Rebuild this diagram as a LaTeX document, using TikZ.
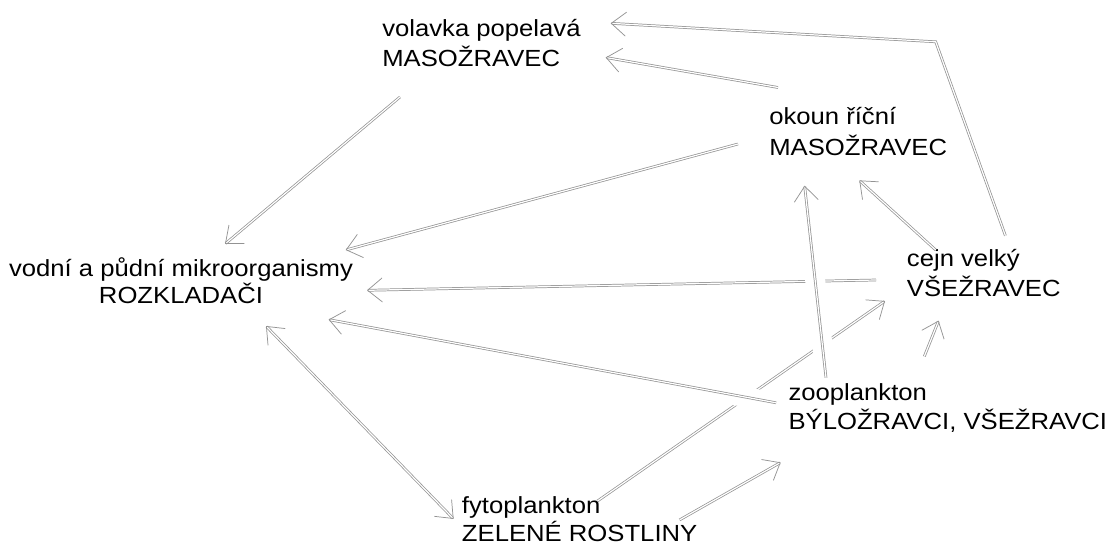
\documentclass[tikz,border=0pt]{standalone}
\usepackage{fontspec}
\setmainfont[FakeStretch=1.1]{Liberation Sans}
\usetikzlibrary{arrows.meta}
\newcommand\mytwoleft[3]{\vtop{\baselineskip=#1\hbox{#2}\hbox{#3}}}
\newcommand\mytwocenter[3]{\vtop{\baselineskip=#1\halign{\hfil##\hfil\cr #2\cr #3\cr}}}
\tikzset{
  label/.style={inner sep=0pt, font=\fontsize{17.5pt}{21pt}\selectfont},
  tip/.tip={Straight Barb[length=11pt,width=18pt]},
  conn/.style={draw=gray!85, line width=0.55pt, double=white, double distance=0.9pt, -tip},
  biconn/.style={conn, tip-tip},
  halo/.style={draw=white, line width=15pt, shorten <=12pt, shorten >=12pt},
}
\begin{document}
\begin{tikzpicture}[x=0.75pt,y=-0.75pt]
\useasboundingbox[fill=white] (0,0) rectangle (1119,552);

% nodes
\node[label, anchor=base west] (volavka) at (382,36.7) {\mytwoleft{22.5pt}{volavka popelavá}{MASOŽRAVEC}};
\node[label, anchor=base] (vodni) at (181,276.7) {\mytwocenter{20pt}{vodní a půdní mikroorganismy}{ROZKLADAČI}};
\node[label, anchor=base west] (okoun) at (769,125) {\mytwoleft{23pt}{okoun říční}{MASOŽRAVEC}};
\node[label, anchor=base west] (cejn) at (906.7,266.7) {\mytwoleft{22.5pt}{cejn velký}{VŠEŽRAVEC}};
\node[label, anchor=base west] (zoo) at (788.3,400) {\mytwoleft{22pt}{zooplankton}{BÝLOŽRAVCI, VŠEŽRAVCI}};
\node[label, anchor=base west] (fyto) at (461.7,513.3) {\mytwoleft{21.3pt}{fytoplankton}{ZELENÉ ROSTLINY}};

% connector end points
\coordinate (volavka-in1) at (610.7,23.3);
\coordinate (volavka-in2) at (605.7,57.5);
\coordinate (volavka-out) at (400,97);
\coordinate (vodni-in1) at (225,244);
\coordinate (vodni-in2) at (345.7,250);
\coordinate (vodni-in3) at (367,290.3);
\coordinate (vodni-in4) at (328.6,319.6);
\coordinate (vodni-io) at (266,326);
\coordinate (okoun-out1) at (778,87.5);
\coordinate (okoun-out2) at (738,144);
\coordinate (okoun-in1) at (804.6,185.7);
\coordinate (okoun-in2) at (859.3,180.4);
\coordinate (cejn-out1) at (1005.4,235.7);
\coordinate (cejn-bend) at (935.7,41.8);
\coordinate (cejn-out2) at (935.7,250);
\coordinate (cejn-out3) at (876,280);
\coordinate (cejn-in1) at (885,301);
\coordinate (cejn-in2) at (938.6,320.6);
\coordinate (zoo-out1) at (924.3,356.4);
\coordinate (zoo-out2) at (826,377.8);
\coordinate (zoo-out3) at (776.1,402.8);
\coordinate (zoo-in) at (780.7,462.4);
\coordinate (fyto-io) at (453.6,518.9);
\coordinate (fyto-out1) at (597.5,501);
\coordinate (fyto-out2) at (679.6,519.9);

% connectors that are crossed over
\draw[conn] (cejn-out3) -- (vodni-in3);
\draw[conn] (fyto-out1) -- (cejn-in1);

% other connectors
\draw[conn] (volavka-out) -- (vodni-in1);
\draw[conn] (okoun-out2) -- (vodni-in2);
\draw[conn] (okoun-out1) -- (volavka-in2);
\draw[conn] (cejn-out1) -- (cejn-bend) -- (volavka-in1);
\draw[conn] (cejn-out2) -- (okoun-in2);
\draw[conn] (zoo-out1) -- (cejn-in2);
\draw[conn] (fyto-out2) -- (zoo-in);
\draw[biconn] (vodni-io) -- (fyto-io);

% connectors drawn on top with a white gap
\path[halo] (zoo-out3) -- (vodni-in4);
\draw[conn] (zoo-out3) -- (vodni-in4);
\path[halo] (zoo-out2) -- (okoun-in1);
\draw[conn] (zoo-out2) -- (okoun-in1);
\end{tikzpicture}
\end{document}
